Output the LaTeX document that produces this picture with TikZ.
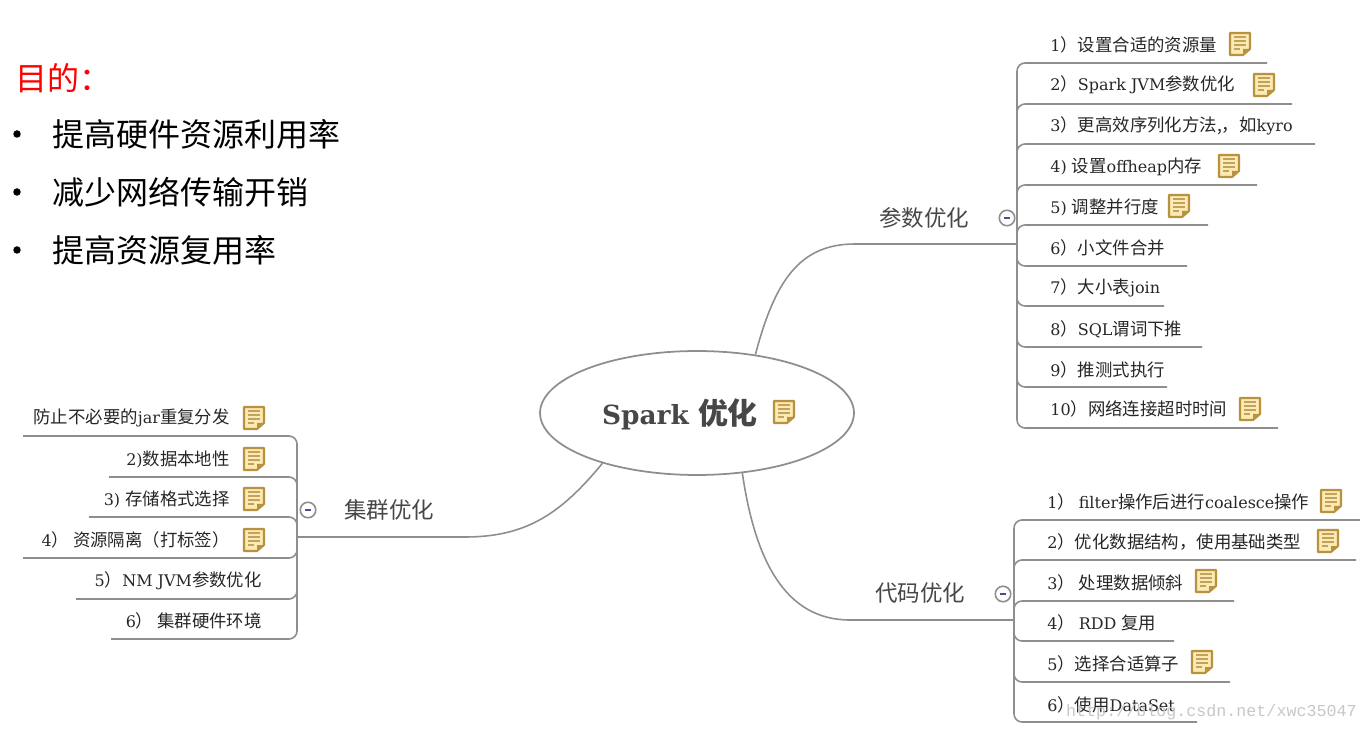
\documentclass[tikz,border=0pt]{standalone}
\usepackage{fontspec}
\setmainfont{DejaVu Serif}
\setmonofont{Liberation Mono}
\newfontfamily\cjk{Noto Sans CJK SC}
\newcommand{\zh}[1]{{\cjk\fontsize{9.9pt}{12pt}\selectfont #1}}
\usepackage{xcolor}
\usetikzlibrary{calc, positioning, shapes.geometric}
\definecolor{noteFill}{HTML}{FBEAB4}
\definecolor{noteEdge}{HTML}{B8923F}
\definecolor{wire}{HTML}{8E8E8E}
\tikzset{
    rootNode/.style={ellipse, draw=wire, line width=1pt, fill=white, inner sep=0pt, minimum width=6.28cm, minimum height=2.48cm},
    rootText/.style={inner sep=0pt, font=\fontsize{15pt}{18pt}\selectfont\bfseries, text=black!72},
    branchText/.style={inner sep=0pt, font=\cjk\fontsize{12.8pt}{15pt}\selectfont, text=black!72},
    item/.style={inner sep=0pt, anchor=west, font=\fontsize{9.1pt}{12pt}\selectfont, text=black!85},
    itemLeft/.style={item, anchor=east},
    goalText/.style={inner sep=0pt, anchor=west, font=\cjk\fontsize{18.2pt}{22pt}\selectfont},
    wireLine/.style={draw=wire, line width=0.9pt},
    twig/.style={wireLine, rounded corners=0.16cm},
    fold/.style={circle, draw=wire, fill=white, line width=0.9pt, inner sep=0pt, minimum size=0.31cm, path picture={\draw[black!35!blue!40!gray, thick] ($(path picture bounding box.west)!0.3!(path picture bounding box.east)$) -- ($(path picture bounding box.west)!0.7!(path picture bounding box.east)$);}},
    notemark/.pic={
        \draw[noteEdge, fill=noteFill, line width=1.2pt, line join=round] (-10,-11) -- (10,-11) -- (10,5) -- (3,11) -- (-10,11) -- cycle;
        \fill[noteEdge] (10,5) -- (3,11) -- (3,5) -- cycle;
        \foreach \yy in {-7,-3,1} {
            \draw[noteEdge!85, line width=1pt] (-6,\yy) -- (6,\yy);
        }
        \draw[noteEdge!85, line width=1pt] (-6,5) -- (0,5);
    }
}

\begin{document}
\begin{tikzpicture}[x=0.02cm, y=-0.02cm]
    \useasboundingbox (0,0) rectangle (1368,732);

    % Goals, top left
    \node[goalText, text=red] (goalHead) at (15,78) {目的：};
    \foreach \n/\yy/\txt in {1/134/提高硬件资源利用率, 2/192/减少网络传输开销, 3/250/提高资源复用率} {
        \node[inner sep=0pt, circle, fill=black, minimum size=0.15cm] (dot\n) at (17,\yy) {};
        \node[goalText] (goal\n) at (52,\yy) {\txt};
    }

    % Branch curves come first, the ellipse hides their ends
    \node[rootNode] (root) at (697,413) {};
    \node[rootText] (rootLabel) at (680,414) {Spark \zh{\fontsize{17pt}{20pt}\selectfont 优化}};
    \pic at (784,412) {notemark};

    \coordinate (hubA) at (1017,244);
    \coordinate (hubB) at (1014,620);
    \coordinate (hubC) at (297,537);
    \draw[wireLine] (root.45.5) .. controls (775,280) and (800,244) .. (855,244) -- (hubA);
    \draw[wireLine] (root.-53) .. controls (755,560) and (785,620) .. (850,620) -- (hubB);
    \draw[wireLine] (root.208) .. controls (560,515) and (525,537) .. (465,537) -- (hubC);

    \node[branchText] (paramLabel) at (924,218) {参数优化};
    \node[branchText] (codeLabel) at (920,593) {代码优化};
    \node[branchText] (clusterLabel) at (389,510) {集群优化};
    \node[fold] (foldA) at (1007,218) {};
    \node[fold] (foldB) at (1003,594) {};
    \node[fold] (foldC) at (308,510) {};

    % Parameter items
    \foreach \n/\ty/\ly/\lx/\txt in {
        1/45/63/1267/{1\zh{）设置合适的资源量}},
        2/85/104/1292/{2\zh{）}Spark JVM\zh{参数优化}},
        3/126/144/1315/{3\zh{）更高效序列化方法,，如}kyro},
        4/167/185/1257/{4) \zh{设置}offheap\zh{内存}},
        5/207/225/1208/{5) \zh{调整并行度}},
        6/248/266/1187/{6\zh{）小文件合并}},
        7/288/306/1164/{7\zh{）大小表}join},
        8/329/347/1202/{8\zh{）}SQL\zh{谓词下推}},
        9/370/387/1167/{9\zh{）推测式执行}},
        10/409/428/1278/{10\zh{）网络连接超时时间}}} {
        \node[item] (param\n) at (1050,\ty) {\txt};
        \coordinate (paramEnd\n) at (\lx,\ly);
        \draw[twig] (hubA) |- (paramEnd\n);
    }

    % Code items
    \foreach \n/\ty/\ly/\lx/\txt in {
        1/502/520/1360/{1\zh{） }filter\zh{操作后进行}coalesce\zh{操作}},
        2/542/560/1356/{2\zh{）优化数据结构，使用基础类型}},
        3/583/601/1234/{3\zh{） 处理数据倾斜}},
        4/623/641/1174/{4\zh{） }RDD \zh{复用}},
        5/664/682/1230/{5\zh{）选择合适算子}},
        6/705/722/1197/{6\zh{）使用}DataSet}} {
        \node[item] (code\n) at (1047,\ty) {\txt};
        \coordinate (codeEnd\n) at (\lx,\ly);
        \draw[twig] (hubB) |- (codeEnd\n);
    }

    % Cluster items, right aligned
    \foreach \n/\tx/\ty/\ly/\lx/\txt in {
        1/230/418/436/23/{\zh{防止不必要的}jar\zh{重复分发}},
        2/230/459/477/109/{2)\zh{数据本地性}},
        3/230/499/517/89/{3) \zh{存储格式选择}},
        4/230/540/558/23/{4\zh{） 资源隔离（打标签）}},
        5/262/581/599/76/{5\zh{）}NM JVM\zh{参数优化}},
        6/262/621/639/111/{6\zh{） 集群硬件环境}}} {
        \node[itemLeft] (cluster\n) at (\tx,\ty) {\txt};
        \coordinate (clusterEnd\n) at (\lx,\ly);
        \draw[twig] (hubC) |- (clusterEnd\n);
    }

    % Note icons
    \foreach \nx/\ny in {1240/44, 1264/85, 1229/166, 1179/206, 1250/409,
        1331/501, 1328/541, 1206/581, 1202/662,
        254/418, 254/459, 254/499, 254/540} {
        \pic at (\nx,\ny) {notemark};
    }

    \node[inner sep=0pt, anchor=east, font=\ttfamily\fontsize{9.5pt}{11pt}\selectfont, text=black!22] (mark) at (1357,712) {http://blog.csdn.net/xwc35047};
\end{tikzpicture}
\end{document}
